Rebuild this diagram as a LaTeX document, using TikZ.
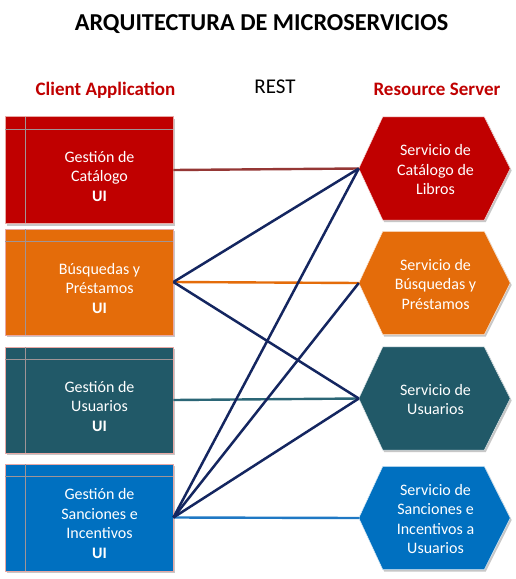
\documentclass[tikz,border=0pt]{standalone}
\usepackage{fontspec}
\setmainfont{Carlito}
\usetikzlibrary{calc}
\definecolor{cRed}{HTML}{C00000}
\definecolor{cOrange}{HTML}{E46C0A}
\definecolor{cTeal}{HTML}{215968}
\definecolor{cBlue}{HTML}{0070C0}
\definecolor{cNavy}{HTML}{142660}
\definecolor{lRed}{HTML}{953735}
\definecolor{lOrange}{HTML}{E46C0A}
\definecolor{lTeal}{HTML}{2B6676}
\definecolor{lBlue}{HTML}{1F78C4}
\definecolor{cBorder}{HTML}{E8A8A4}
\definecolor{cInner}{HTML}{A09496}
\definecolor{cHead}{HTML}{C00000}
\tikzset{
  uibox/.style={draw=cBorder, line width=0.9pt, minimum width=168pt, minimum height=107pt, inner sep=0pt},
  innerline/.style={draw=cInner, line width=1pt},
  boxshadow/.style={fill=black!22},
  txt/.style={text=white, font=\fontsize{16}{19.5}\selectfont, align=center, inner sep=0pt},
  hexbox/.style={minimum width=151pt, minimum height=103pt, inner sep=0pt},
  conn/.style={line width=2.4pt},
  navyconn/.style={draw=cNavy, line width=2.5pt},
  head/.style={text=cHead, font=\fontsize{19}{21}\selectfont\bfseries, inner sep=0pt}
}
\newcommand{\hexfill}[2]{%
  \fill[black!22] ($(#1.west)+(1.5,2)$) -- ($(#1.north west)+(25.5,2)$) -- ($(#1.north east)+(-24.5,2)$) -- ($(#1.east)+(1.5,2)$) -- ($(#1.south east)+(-24.5,2)$) -- ($(#1.south west)+(25.5,2)$) -- cycle;
  \fill[#2, draw=white!85!#2, line width=0.5pt] (#1.west) -- ($(#1.north west)+(24,0)$) -- ($(#1.north east)+(-26,0)$) -- (#1.east) -- ($(#1.south east)+(-26,0)$) -- ($(#1.south west)+(24,0)$) -- cycle;}
\newcommand{\uiboxdraw}[4]{% name, colour, centre, height
  \fill[boxshadow] ($#3+(-82.5,{-#4/2+2})$) rectangle ($#3+(85.5,{#4/2+2})$);
  \node[uibox, fill=#2, minimum height=#4 pt] (#1) at #3 {};
  \draw[innerline] ($(#1.north west)+(21,0.5)$) -- ($(#1.south west)+(21,-0.5)$);
  \draw[innerline] ($(#1.north west)+(0.5,13)$) -- ($(#1.north east)+(-0.5,13)$);}
\begin{document}
\begin{tikzpicture}[x=1pt,y=-1pt]
\useasboundingbox[fill=white] (0,0) rectangle (516,579);

% headings
\node[font=\fontsize{24.3}{26}\selectfont\bfseries, inner sep=0pt, anchor=base] (title) at (261.5,30) {ARQUITECTURA DE MICROSERVICIOS};
\node[head, anchor=base] (client) at (105.5,95) {Client Application};
\node[font=\fontsize{21}{24}\selectfont, inner sep=0pt, anchor=base] (rest) at (275,93) {REST};
\node[head, anchor=base] (server) at (437,95) {Resource Server};

% client boxes
\uiboxdraw{b1}{cRed}{(89,170)}{107}
\uiboxdraw{b2}{cOrange}{(89,282)}{106}
\uiboxdraw{b3}{cTeal}{(89,400)}{106}
\uiboxdraw{b4}{cBlue}{(89,517.5)}{107}

\node[txt] (t1) at ($(b1.north)+(10.5,60)$) {Gestión de\\Catálogo\\\textbf{UI}};
\node[txt] (t2) at ($(b2.north)+(10.5,59.5)$) {Búsquedas y\\Préstamos\\\textbf{UI}};
\node[txt] (t3) at ($(b3.north)+(10.5,59.5)$) {Gestión de\\Usuarios\\\textbf{UI}};
\node[txt] (t4) at ($(b4.north)+(10.5,60)$) {Gestión de\\Sanciones e\\Incentivos\\\textbf{UI}};

% service hexagons
\node[hexbox] (h1) at (434.5,168.5) {};
\node[hexbox] (h2) at (434.5,283) {};
\node[hexbox] (h3) at (434.5,398.5) {};
\node[hexbox] (h4) at (434.5,518) {};
\hexfill{h1}{cRed}
\hexfill{h2}{cOrange}
\hexfill{h3}{cTeal}
\hexfill{h4}{cBlue}
\node[txt] (ht1) at ($(h1.center)+(1,1)$) {Servicio de\\Catálogo de\\Libros};
\node[txt] (ht2) at ($(h2.center)+(1,1)$) {Servicio de\\Búsquedas y\\Préstamos};
\node[txt] (ht3) at ($(h3.center)+(1,1)$) {Servicio de\\Usuarios};
\node[txt] (ht4) at ($(h4.center)+(1,1)$) {Servicio de\\Sanciones e\\Incentivos a\\Usuarios};

% connectors
\draw[conn, draw=lRed] (b1.east) -- (h1.west);
\draw[conn, draw=lOrange] (b2.east) -- (h2.west);
\draw[conn, draw=lTeal] (b3.east) -- (h3.west);
\draw[conn, draw=lBlue] (b4.east) -- (h4.west);
\draw[navyconn] (b2.east) -- (h1.west);
\draw[navyconn] (b2.east) -- (h3.west);
\draw[navyconn] (b4.east) -- (h1.west);
\draw[navyconn] (b4.east) -- (h2.west);
\draw[navyconn] (b4.east) -- (h3.west);
\end{tikzpicture}
\end{document}
